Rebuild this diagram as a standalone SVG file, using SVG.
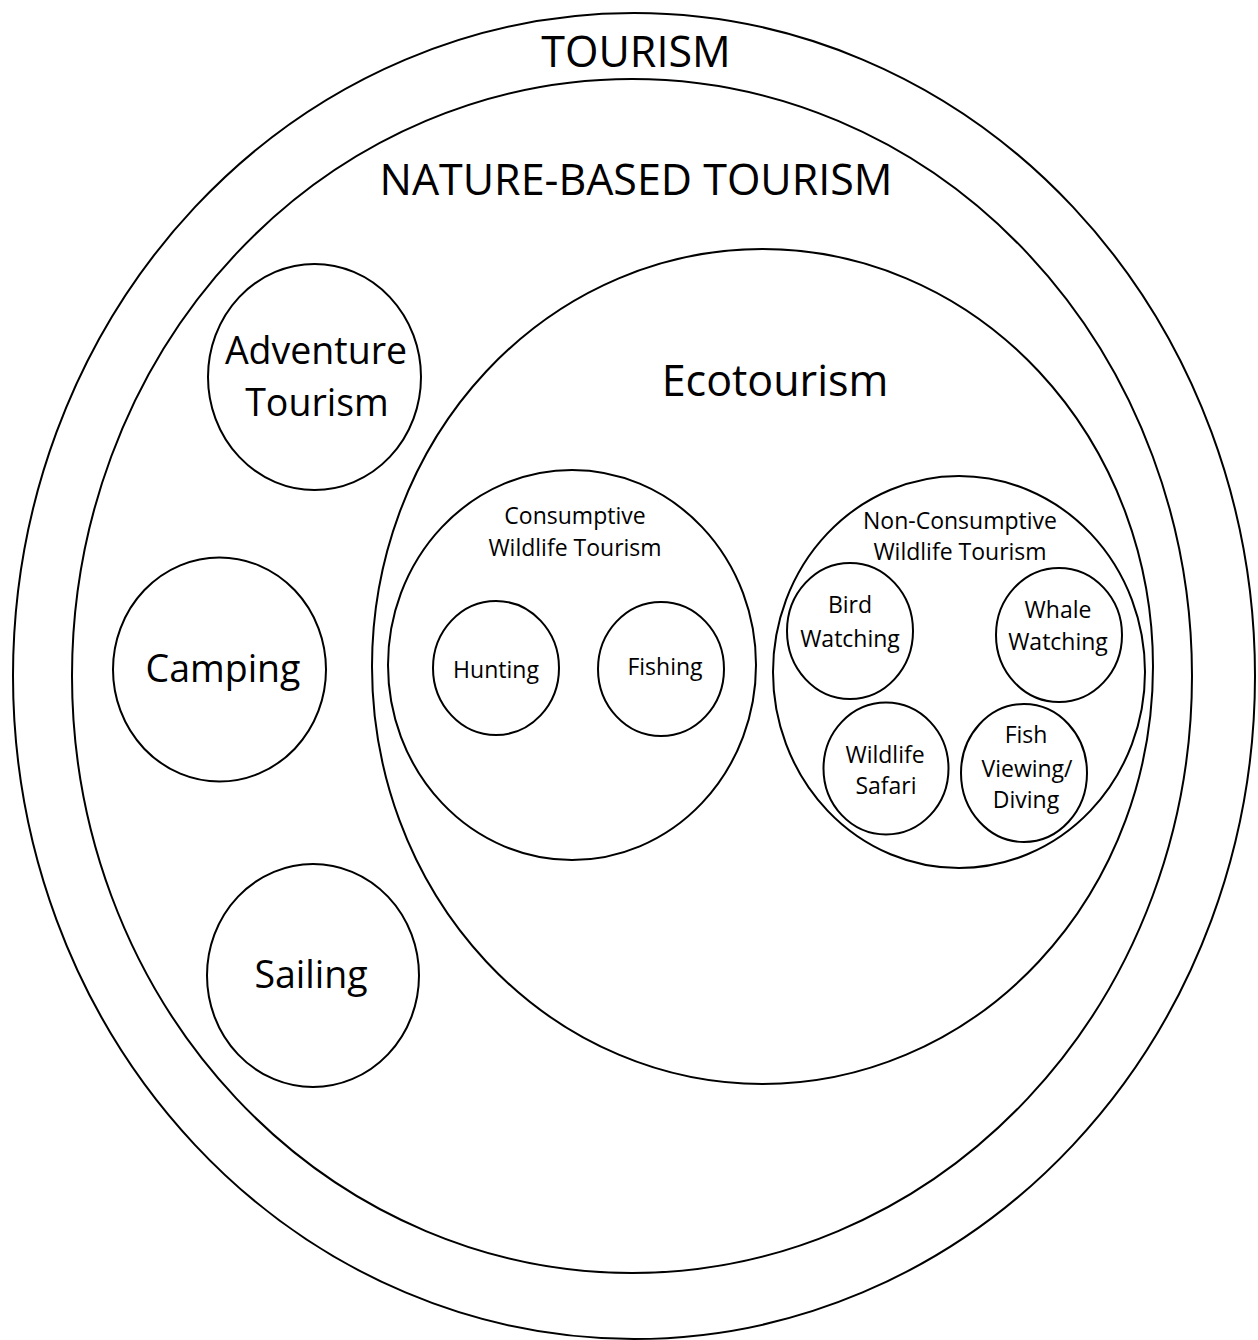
<svg xmlns="http://www.w3.org/2000/svg" width="1258" height="1340" viewBox="0 0 1258 1340">
  <style>
    .ring { fill: none; stroke: #000; stroke-width: 2; }
    .big { font-family: "Open Sans", "Liberation Sans", sans-serif; font-size: 43px; fill: #000; text-anchor: middle; }
    .mid { font-family: "Open Sans", "Liberation Sans", sans-serif; font-size: 37.5px; fill: #000; text-anchor: middle; }
    .small { font-family: "Open Sans", "Liberation Sans", sans-serif; font-size: 23px; fill: #000; text-anchor: middle; }
  </style>
  <rect width="1258" height="1340" fill="#fff"/>

  <!-- outermost set -->
  <g id="tourism">
    <ellipse class="ring" cx="634" cy="676" rx="621" ry="663"/>
    <text class="big" x="636" y="67">TOURISM</text>
  </g>

  <g id="nature-based-tourism">
    <ellipse class="ring" cx="632" cy="676" rx="560" ry="597"/>
    <text class="big" x="636" y="195">NATURE-BASED TOURISM</text>
  </g>

  <g id="adventure-tourism">
    <ellipse class="ring" cx="314.5" cy="377" rx="106.5" ry="113"/>
    <text class="mid" x="316" y="364">Adventure</text>
    <text class="mid" x="317" y="416">Tourism</text>
  </g>

  <g id="camping">
    <ellipse class="ring" cx="219.5" cy="669.5" rx="106.5" ry="112"/>
    <text class="mid" x="223" y="682">Camping</text>
  </g>

  <g id="sailing">
    <ellipse class="ring" cx="313" cy="975.5" rx="106" ry="111.5"/>
    <text class="mid" x="311" y="988">Sailing</text>
  </g>

  <g id="ecotourism">
    <ellipse class="ring" cx="762.5" cy="666.5" rx="390.5" ry="417.5"/>
    <text class="big" x="775" y="396">Ecotourism</text>
  </g>

  <!-- consumptive branch -->
  <g id="consumptive-wildlife-tourism">
    <ellipse class="ring" cx="572" cy="665" rx="184" ry="195"/>
    <text class="small" x="575" y="524">Consumptive</text>
    <text class="small" x="575" y="556">Wildlife Tourism</text>
  </g>

  <g id="hunting">
    <ellipse class="ring" cx="496" cy="668" rx="63" ry="67"/>
    <text class="small" x="496" y="678">Hunting</text>
  </g>

  <g id="fishing">
    <ellipse class="ring" cx="661" cy="669" rx="63" ry="67"/>
    <text class="small" x="665" y="675">Fishing</text>
  </g>

  <!-- non-consumptive branch -->
  <g id="non-consumptive-wildlife-tourism">
    <ellipse class="ring" cx="959" cy="672" rx="186" ry="196"/>
    <text class="small" x="960" y="529">Non-Consumptive</text>
    <text class="small" x="960" y="560">Wildlife Tourism</text>
  </g>

  <g id="bird-watching">
    <ellipse class="ring" cx="850" cy="631" rx="63" ry="68"/>
    <text class="small" x="850" y="613">Bird</text>
    <text class="small" x="850" y="647">Watching</text>
  </g>

  <g id="whale-watching">
    <ellipse class="ring" cx="1059" cy="635" rx="63" ry="67"/>
    <text class="small" x="1058" y="618">Whale</text>
    <text class="small" x="1058" y="650">Watching</text>
  </g>

  <g id="wildlife-safari">
    <ellipse class="ring" cx="886" cy="768.5" rx="62.5" ry="66"/>
    <text class="small" x="885" y="763">Wildlife</text>
    <text class="small" x="886" y="794">Safari</text>
  </g>

  <g id="fish-viewing-diving">
    <ellipse class="ring" cx="1024" cy="773" rx="63" ry="69"/>
    <text class="small" x="1026" y="743">Fish</text>
    <text class="small" x="1027" y="777">Viewing/</text>
    <text class="small" x="1026" y="808">Diving</text>
  </g>

  <g id="connectors"/>
</svg>
